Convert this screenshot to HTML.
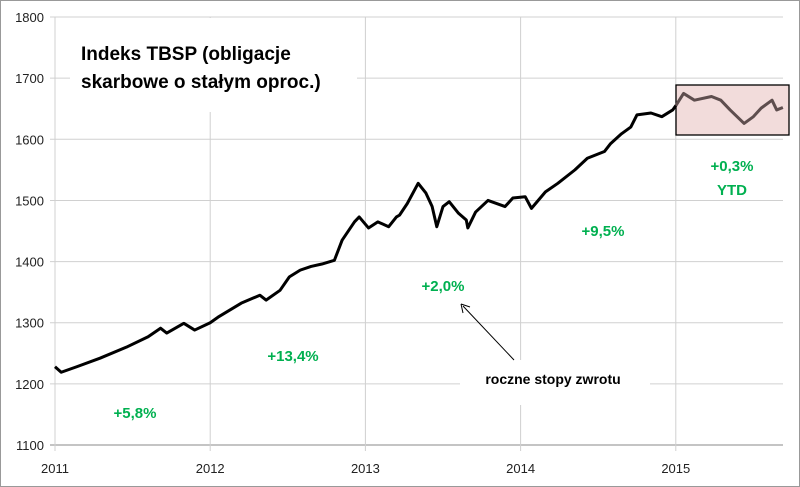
<!DOCTYPE html>
<html><head><meta charset="utf-8"><style>
body{margin:0;background:#fff}
svg{display:block;font-family:"Liberation Sans",sans-serif}
</style></head><body>
<svg id="chart" width="800" height="487">
<rect x="0.5" y="0.5" width="799" height="486" fill="#fff" stroke="#999"/>
<g id="grid"></g><g id="series"></g><g id="ann"></g>
</svg>
<script>
const years=[2011,2012,2013,2014,2015];
const yTicks=[1100,1200,1300,1400,1500,1600,1700,1800];
const tMain=[2011.0,2011.04,2011.14,2011.29,2011.46,2011.6,2011.68,2011.72,2011.83,2011.9,2012.0,2012.05,2012.2,2012.32,2012.36,2012.45,2012.51,2012.58,2012.65,2012.72,2012.8,2012.85,2012.93,2012.96,2013.02,2013.08,2013.15,2013.2,2013.22,2013.27,2013.34,2013.39,2013.43,2013.46,2013.5,2013.54,2013.6,2013.65,2013.66,2013.71,2013.79,2013.9,2013.95,2014.03,2014.07,2014.16,2014.24,2014.35,2014.43,2014.54,2014.58,2014.65,2014.71,2014.75,2014.84,2014.91,2014.98,2015.0];
const vMain=[1228,1219,1228,1242,1260,1277,1291,1283,1299,1288,1300,1309,1332,1345,1337,1353,1375,1386,1392,1396,1402,1435,1465,1473,1455,1465,1457,1473,1476,1495,1528,1512,1490,1457,1490,1498,1479,1468,1455,1481,1500,1490,1504,1506,1487,1514,1528,1550,1569,1580,1593,1609,1620,1640,1643,1637,1648,1655];
const tYtd=[2015.0,2015.05,2015.12,2015.23,2015.29,2015.35,2015.44,2015.5,2015.55,2015.62,2015.65,2015.69];
const vYtd=[1655,1675,1664,1670,1664,1648,1626,1637,1651,1664,1648,1652];
const X=t=>55+(t-2011)*155.2;
const Y=v=>445-(v-1100)*0.6114;
const ns="http://www.w3.org/2000/svg";
function mk(p,tag,a){const e=document.createElementNS(ns,tag);for(const k in a)e.setAttribute(k,a[k]);p.appendChild(e);return e;}
const g=document.getElementById('grid');
yTicks.forEach(v=>{
 const l=mk(g,'line',{x1:50,x2:783,y1:Y(v),y2:Y(v),stroke:v===1100?'#888':'#d0d0d0','stroke-width':1});
 
 
 const t=mk(g,'text',{x:44,y:Y(v)+5,'text-anchor':'end','font-size':13,fill:'#222'});t.textContent=v;
 
 
});
years.forEach(y=>{
 const l=mk(g,'line',{x1:X(y),x2:X(y),y1:17,y2:451,stroke:'#d0d0d0','stroke-width':1});
 
 
 const t=mk(g,'text',{x:X(y),y:473,'text-anchor':'middle','font-size':13,fill:'#222'});t.textContent=y;
 
 
});
const a=document.getElementById('ann');
const tb=mk(a,'rect',{x:70,y:18,width:287,height:94,fill:'#fff'});


const rb=mk(a,'rect',{x:460,y:360,width:190,height:45,fill:'#fff'});


const pk=mk(a,'rect',{x:676,y:85,width:113,height:50,fill:'#f2dcdb',stroke:'#000','stroke-width':1.3});


const s=document.getElementById('series');
const pm=mk(s,'polyline',{points:tMain.map((t,i)=>X(t)+','+Y(vMain[i])).join(' '),fill:'none',stroke:'#000','stroke-width':3,'stroke-linejoin':'round'});


s.parentNode.appendChild(s);
const py=mk(a,'polyline',{points:tYtd.map((t,i)=>X(t)+','+Y(vYtd[i])).join(' '),fill:'none',stroke:'#5e4e4e','stroke-width':3,'stroke-linejoin':'round'});


function txt(x,y,str,size,fill,name,anchor){const t=mk(a,'text',{x:x,y:y,'font-size':size,'font-weight':'bold',fill:fill,'text-anchor':anchor||'start'});t.textContent=str;
 
 return t;}
txt(81,60,'Indeks TBSP (obligacje',19,'#000','title-line-1');
txt(81,88,'skarbowe o stałym oproc.)',19,'#000','title-line-2');
txt(135,418,'+5,8%',15,'#00b050','return-2011','middle');
txt(293,361,'+13,4%',15,'#00b050','return-2012','middle');
txt(443,291,'+2,0%',15,'#00b050','return-2013','middle');
txt(603,236,'+9,5%',15,'#00b050','return-2014','middle');
txt(732,171,'+0,3%',15,'#00b050','return-2015-ytd','middle');
txt(732,195,'YTD',15,'#00b050','ytd-label','middle');
txt(553,384,'roczne stopy zwrotu',14,'#000','annotation-label','middle');
const ar=mk(a,'line',{x1:514,y1:360,x2:463,y2:306,stroke:'#000','stroke-width':1});


const ah=mk(a,'path',{d:'M461,304 l9,3 M461,304 l2,9',stroke:'#000','stroke-width':1,fill:'none'});


</script>
</body></html>
